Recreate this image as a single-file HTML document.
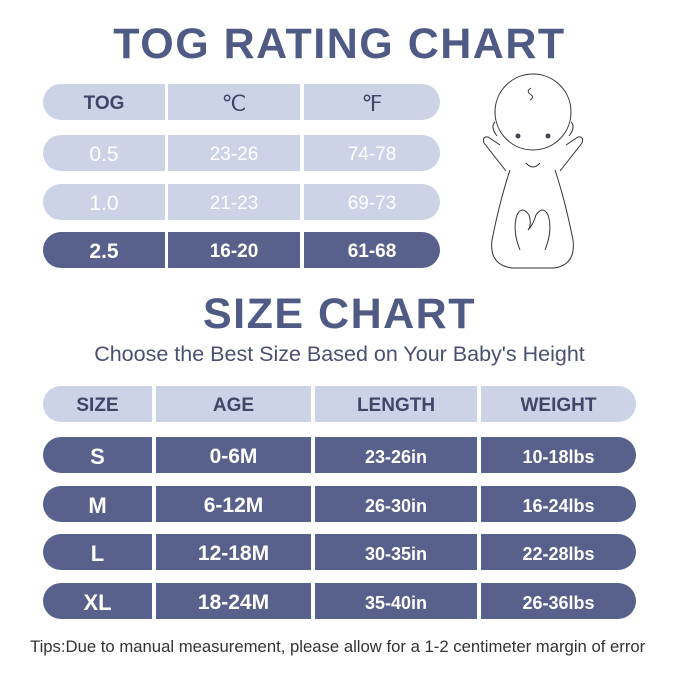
<!DOCTYPE html>
<html><head><style>
body{margin:0;width:679px;height:679px;background:#fff;position:relative;overflow:hidden;font-family:"Liberation Sans",sans-serif}
.t{position:absolute;left:0;width:679px;text-align:center;color:#4f5a85;font-weight:bold}
.c{position:absolute;display:flex;align-items:center;justify-content:center;font-size:19px;box-sizing:border-box;padding-top:4px}
.l{background:#cdd3e6;color:#fff}
.h{background:#cdd3e6;color:#3f4668;font-weight:bold}
.d{background:#57618b;color:#fff;font-weight:bold}
</style></head><body>
<div class="t" style="top:20px;font-size:43px;letter-spacing:1.5px">TOG RATING CHART</div>
<div class="t" style="top:290px;font-size:43px;letter-spacing:1.5px">SIZE CHART</div>
<div class="t" style="top:342px;font-size:21.5px;font-weight:normal;color:#4a5070">Choose the Best Size Based on Your Baby's Height</div>
<div style="position:absolute;left:30px;top:637px;font-size:16.7px;color:#333">Tips:Due to manual measurement, please allow for a 1-2 centimeter margin of error</div>

<div class="c h" style="left:43px;top:84px;width:122px;height:36px;border-radius:18px 0 0 18px">TOG</div>
<div class="c h" style="left:168px;top:84px;width:132px;height:36px;font-weight:normal;font-size:22px">℃</div>
<div class="c h" style="left:304px;top:84px;width:136px;height:36px;border-radius:0 18px 18px 0;font-weight:normal;font-size:22px">℉</div>

<div class="c l" style="left:43px;top:135px;width:122px;height:36px;border-radius:18px 0 0 18px;font-size:21px">0.5</div>
<div class="c l" style="left:168px;top:135px;width:132px;height:36px">23-26</div>
<div class="c l" style="left:304px;top:135px;width:136px;height:36px;border-radius:0 18px 18px 0">74-78</div>

<div class="c l" style="left:43px;top:184px;width:122px;height:36px;border-radius:18px 0 0 18px;font-size:21px">1.0</div>
<div class="c l" style="left:168px;top:184px;width:132px;height:36px">21-23</div>
<div class="c l" style="left:304px;top:184px;width:136px;height:36px;border-radius:0 18px 18px 0">69-73</div>

<div class="c d" style="left:43px;top:232px;width:122px;height:36px;border-radius:18px 0 0 18px;font-size:21px">2.5</div>
<div class="c d" style="left:168px;top:232px;width:132px;height:36px">16-20</div>
<div class="c d" style="left:304px;top:232px;width:136px;height:36px;border-radius:0 18px 18px 0">61-68</div>

<div class="c h" style="left:43px;top:386px;width:109px;height:36px;border-radius:18px 0 0 18px">SIZE</div>
<div class="c h" style="left:156px;top:386px;width:155px;height:36px">AGE</div>
<div class="c h" style="left:315px;top:386px;width:162px;height:36px">LENGTH</div>
<div class="c h" style="left:481px;top:386px;width:155px;height:36px;border-radius:0 18px 18px 0">WEIGHT</div>

<div class="c d" style="left:43px;top:437px;width:109px;height:36px;border-radius:18px 0 0 18px;font-size:22px">S</div>
<div class="c d" style="left:156px;top:437px;width:155px;height:36px;font-size:21px">0-6M</div>
<div class="c d" style="left:315px;top:437px;width:162px;height:36px;font-size:18px">23-26in</div>
<div class="c d" style="left:481px;top:437px;width:155px;height:36px;border-radius:0 18px 18px 0;font-size:18px">10-18lbs</div>

<div class="c d" style="left:43px;top:486px;width:109px;height:36px;border-radius:18px 0 0 18px;font-size:22px">M</div>
<div class="c d" style="left:156px;top:486px;width:155px;height:36px;font-size:21px">6-12M</div>
<div class="c d" style="left:315px;top:486px;width:162px;height:36px;font-size:18px">26-30in</div>
<div class="c d" style="left:481px;top:486px;width:155px;height:36px;border-radius:0 18px 18px 0;font-size:18px">16-24lbs</div>

<div class="c d" style="left:43px;top:534px;width:109px;height:36px;border-radius:18px 0 0 18px;font-size:22px">L</div>
<div class="c d" style="left:156px;top:534px;width:155px;height:36px;font-size:21px">12-18M</div>
<div class="c d" style="left:315px;top:534px;width:162px;height:36px;font-size:18px">30-35in</div>
<div class="c d" style="left:481px;top:534px;width:155px;height:36px;border-radius:0 18px 18px 0;font-size:18px">22-28lbs</div>

<div class="c d" style="left:43px;top:583px;width:109px;height:36px;border-radius:18px 0 0 18px;font-size:22px">XL</div>
<div class="c d" style="left:156px;top:583px;width:155px;height:36px;font-size:21px">18-24M</div>
<div class="c d" style="left:315px;top:583px;width:162px;height:36px;font-size:18px">35-40in</div>
<div class="c d" style="left:481px;top:583px;width:155px;height:36px;border-radius:0 18px 18px 0;font-size:18px">26-36lbs</div>

<svg style="position:absolute;left:0;top:0" width="679" height="679" fill="none" stroke="#333" stroke-width="1">
<circle cx="533" cy="112" r="38"/>
<path d="M495 122 q-5 5 2 14 M571 122 q5 5 -2 14"/>
<path d="M530 100 q5 -3 0 -6 q-4 -3 1 -6"/>
<circle cx="518" cy="136" r="2.5" fill="#445" stroke="none"/>
<circle cx="548" cy="136" r="2.5" fill="#445" stroke="none"/>
<path d="M500 145 l-12 -8 q-6 -1 -4 6 l22 28 M566 145 l12 -8 q6 -1 4 6 l-22 28"/>
<path d="M526 163 q7 8 14 0"/>
<path d="M510 170 q-10 30 -18 70 q-3 25 20 28 l42 0 q22 -3 19 -28 q-8 -40 -18 -70"/>
<path d="M520 250 q-8 -20 -3 -35 q5 -10 12 0 q3 10 -1 15 q5 -5 8 -15 q7 -10 12 0 q5 15 -3 35"/>
</svg>
</body></html>
